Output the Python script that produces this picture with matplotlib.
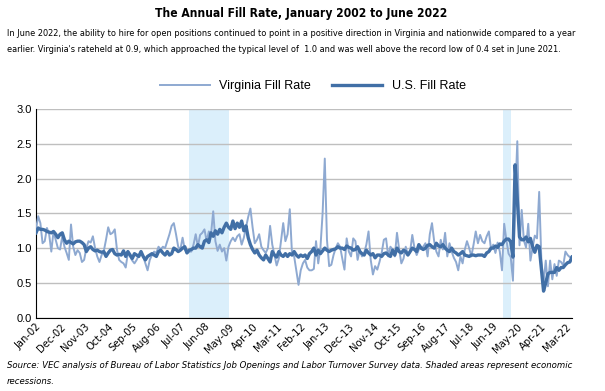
import os
import numpy as np
import pandas as pd
import matplotlib
matplotlib.use("Agg")
import matplotlib.pyplot as plt
from matplotlib import font_manager as fm

# monthly fill rates, Jan 2002 - Jun 2022
virginia = [
    1.27, 1.46, 1.36, 1.07, 1.10, 1.29, 1.20, 0.95, 1.24, 1.12, 1.00, 0.98,  # 2002
    1.17, 1.02, 0.93, 0.83, 1.34, 1.02, 0.90, 0.97, 0.93, 0.80, 0.83, 1.00,  # 2003
    1.10, 1.08, 1.17, 1.00, 0.88, 0.80, 0.90, 0.96, 1.12, 1.30, 1.20, 1.22,  # 2004
    1.27, 0.98, 0.83, 0.80, 0.78, 0.72, 0.93, 0.88, 0.82, 0.78, 0.83, 0.90,  # 2005
    0.95, 0.88, 0.78, 0.68, 0.83, 0.90, 0.95, 0.93, 1.02, 0.98, 1.02, 1.00,  # 2006
    1.10, 1.20, 1.32, 1.36, 1.20, 1.02, 0.98, 1.15, 0.98, 0.93, 0.95, 0.95,  # 2007
    1.05, 1.20, 1.02, 1.19, 1.22, 1.27, 1.10, 1.24, 1.20, 1.53, 1.10, 0.96,  # 2008
    1.05, 0.95, 1.00, 0.82, 1.02, 1.10, 1.15, 1.10, 1.17, 1.20, 1.05, 1.15,  # 2009
    1.30, 1.45, 1.57, 1.30, 1.07, 1.12, 1.20, 1.02, 0.97, 0.93, 1.00, 1.32,  # 2010
    1.05, 0.90, 0.75, 0.85, 1.10, 1.36, 1.10, 1.20, 1.56, 0.93, 0.88, 0.68,  # 2011
    0.47, 0.68, 0.78, 0.83, 0.72, 0.68, 0.68, 0.70, 1.10, 0.78, 1.00, 1.50,  # 2012
    2.29, 1.12, 0.74, 0.76, 0.90, 1.00, 1.07, 1.02, 0.85, 0.69, 1.14, 0.95,  # 2013
    0.88, 1.14, 1.10, 0.83, 0.98, 0.88, 0.93, 1.05, 1.24, 0.83, 0.62, 0.74,  # 2014
    0.69, 0.80, 0.93, 1.12, 1.14, 0.88, 1.02, 0.98, 0.88, 1.22, 0.98, 0.78,  # 2015
    0.85, 1.02, 0.90, 0.95, 1.19, 1.00, 0.90, 0.98, 1.00, 1.02, 1.07, 0.88,  # 2016
    1.20, 1.36, 1.10, 0.95, 0.88, 1.12, 0.98, 1.22, 0.88, 1.07, 0.95, 0.86,  # 2017
    0.80, 0.68, 0.88, 0.78, 0.98, 1.10, 1.00, 0.88, 1.05, 1.24, 1.07, 1.19,  # 2018
    1.10, 1.07, 1.17, 1.24, 0.98, 1.05, 0.93, 1.08, 0.95, 0.68, 1.35, 1.12,  # 2019
    0.92, 0.87, 0.53, 1.70, 2.54, 1.04, 1.55, 1.11, 1.01, 1.35, 0.82, 1.01,  # 2020
    1.18, 1.14, 1.81, 0.82, 0.50, 0.82, 0.45, 0.82, 0.55, 0.77, 0.60, 0.82,  # 2021
    0.80, 0.75, 0.95, 0.90, 0.87, 0.88,                                      # 2022
]
us = [
    1.22, 1.29, 1.27, 1.27, 1.26, 1.24, 1.23, 1.22, 1.24, 1.20, 1.15, 1.20,  # 2002
    1.22, 1.12, 1.07, 1.10, 1.08, 1.06, 1.09, 1.10, 1.10, 1.08, 1.05, 0.95,  # 2003
    1.00, 1.02, 0.98, 0.96, 0.97, 0.95, 0.94, 0.95, 0.88, 0.93, 0.97, 0.98,  # 2004
    0.92, 0.90, 0.91, 0.90, 0.96, 0.88, 0.95, 0.90, 0.85, 0.92, 0.90, 0.88,  # 2005
    0.95, 0.88, 0.83, 0.88, 0.90, 0.92, 0.90, 0.88, 0.95, 0.97, 0.93, 0.90,  # 2006
    0.95, 0.90, 0.92, 1.00, 0.98, 0.95, 0.97, 1.00, 1.02, 0.93, 0.97, 0.98,  # 2007
    1.00, 1.00, 1.05, 1.02, 1.00, 1.10, 1.12, 1.08, 1.22, 1.17, 1.25, 1.20,  # 2008
    1.27, 1.22, 1.30, 1.36, 1.30, 1.27, 1.39, 1.28, 1.36, 1.30, 1.39, 1.25,  # 2009
    1.32, 1.15, 1.05, 0.98, 0.93, 0.97, 0.90, 0.86, 0.83, 0.90, 0.85, 0.80,  # 2010
    0.95, 0.90, 0.87, 0.95, 0.90, 0.88, 0.92, 0.88, 0.92, 0.90, 0.95, 0.90,  # 2011
    0.87, 0.90, 0.88, 0.90, 0.85, 0.92, 0.95, 1.00, 0.90, 0.97, 0.92, 0.96,  # 2012
    1.00, 0.97, 0.95, 0.97, 0.98, 0.99, 1.02, 1.00, 1.00, 0.98, 1.03, 1.01,  # 2013
    1.00, 0.97, 0.98, 1.02, 0.95, 0.92, 0.90, 0.97, 0.93, 0.90, 0.92, 0.86,  # 2014
    0.90, 0.90, 0.88, 0.92, 0.93, 0.90, 0.88, 0.97, 0.90, 1.00, 0.95, 0.93,  # 2015
    0.97, 0.95, 0.90, 0.95, 1.00, 0.98, 0.95, 1.05, 1.00, 0.98, 1.00, 1.04,  # 2016
    1.05, 1.02, 1.00, 1.07, 1.03, 1.02, 1.05, 1.00, 0.97, 0.95, 1.00, 0.95,  # 2017
    0.93, 0.90, 0.92, 0.95, 0.90, 0.89, 0.88, 0.90, 0.90, 0.89, 0.90, 0.90,  # 2018
    0.90, 0.88, 0.93, 0.95, 1.00, 1.00, 1.03, 1.01, 1.06, 1.05, 1.10, 1.13,  # 2019
    1.13, 1.09, 0.87, 2.20, 1.70, 1.16, 1.12, 1.12, 1.16, 1.09, 1.14, 1.02,  # 2020
    0.94, 1.04, 1.02, 0.70, 0.38, 0.50, 0.63, 0.65, 0.65, 0.65, 0.72, 0.68,  # 2021
    0.72, 0.72, 0.76, 0.79, 0.80, 0.87,                                      # 2022
]
months = pd.date_range("2002-01-01", periods=len(us), freq="MS")
month_labels = [d.strftime("%b-%y") for d in months]
recessions = [(69.9, 88.0), (213.3, 217.3)]  # shaded spans, month index


# look for a narrow/condensed face (the original uses Arial Narrow)
def narrow_font(size, bold=False, italic=False):
    prefs = ["Liberation Sans Narrow", "DejaVu Sans", "Roboto Condensed", "Roboto",
             "Open Sans Condensed", "Open Sans", "Noto Sans"]
    cands = []
    for f in fm.fontManager.ttflist:
        fn = os.path.basename(f.fname).lower()
        if "narrow" not in fn and "condensed" not in fn:
            continue
        if f.name not in prefs:
            continue
        w = f.weight if isinstance(f.weight, int) else (700 if "bold" in str(f.weight) else 400)
        if bold != (w >= 600) or (not bold and w < 350):
            continue
        if italic != (f.style in ("italic", "oblique")):
            continue
        cands.append((prefs.index(f.name), f.fname))
    if cands:
        return fm.FontProperties(fname=sorted(cands)[0][1], size=size)
    return fm.FontProperties(family="Liberation Sans", size=size * 0.84,
                             weight="bold" if bold else "normal",
                             style="italic" if italic else "normal")


def fit_width(fig, txt, target_px):
    fig.canvas.draw()
    w = txt.get_window_extent().width
    txt.set_fontsize(txt.get_fontsize() * target_px / w)
    return txt.get_fontsize()


plt.rcParams["font.family"] = ["Liberation Sans", "DejaVu Sans"]

fig = plt.figure(figsize=(6.05, 3.91), dpi=100)
ax = fig.add_axes([36 / 605, 1 - 317.5 / 391, 536 / 605, 208.2 / 391])

x = np.arange(len(us))
for a, b in recessions:
    ax.axvspan(a, b, color="#DBEFFB", lw=0, zorder=0)
ax.plot(x, virginia, color="#8EA9D1", lw=1.4, solid_joinstyle="round", label="Virginia Fill Rate", zorder=3)
ax.plot(x, us, color="#416FA6", lw=2.4, solid_joinstyle="round", label="U.S. Fill Rate", zorder=4)

ax.set_ylim(0, 3)
ax.set_xlim(0, len(us) - 1)
yt = np.arange(0, 3.01, 0.5)
ax.set_yticks(yt)
ax.set_yticklabels([f"{v:.1f}" for v in yt], fontsize=8)
ax.yaxis.grid(True, color="#BFBFBF", lw=1)
ax.set_axisbelow(True)
ticks = x[::11]
ax.set_xticks(ticks)
ax.set_xticklabels([month_labels[i] for i in ticks], rotation=45, ha="right",
                   rotation_mode="anchor", fontproperties=narrow_font(8))
ax.tick_params(length=0, pad=3)
for s in ["top", "right"]:
    ax.spines[s].set_visible(False)
ax.spines["left"].set_color("black")
ax.spines["bottom"].set_color("black")

title = fig.text(301 / 605, 1 - 14 / 391, "The Annual Fill Rate, January 2002 to June 2022",
                 ha="center", va="center", fontproperties=narrow_font(11.5, bold=True))
sub1 = fig.text(7 / 605, 1 - 33 / 391,
                "In June 2022, the ability to hire for open positions continued to point in a positive direction in Virginia and nationwide compared to a year",
                ha="left", va="center", fontproperties=narrow_font(8.5))
sub2 = fig.text(7 / 605, 1 - 50 / 391,
                "earlier. Virginia's rateheld at 0.9, which approached the typical level of  1.0 and was well above the record low of 0.4 set in June 2021.",
                ha="left", va="center", fontproperties=narrow_font(8.5))
src1 = fig.text(7 / 605, 1 - 366 / 391,
                "Source: VEC analysis of Bureau of Labor Statistics Job Openings and Labor Turnover Survey data. Shaded areas represent economic",
                ha="left", va="center", fontproperties=narrow_font(8.2, italic=True))
src2 = fig.text(7 / 605, 1 - 382 / 391, "recessions.", ha="left", va="center",
                fontproperties=narrow_font(8.2, italic=True))

fig.legend(loc="center", bbox_to_anchor=(0.517, 1 - 86 / 391), ncol=2, frameon=False,
           handlelength=4.0, handletextpad=0.75, columnspacing=1.7,
           prop={"family": ["Liberation Sans", "DejaVu Sans"], "size": 9})

# match the text widths of the original
fit_width(fig, title, 292)
s = fit_width(fig, sub1, 567)
sub2.set_fontsize(s)
s = fit_width(fig, src1, 564)
src2.set_fontsize(s)

fig.savefig("out.png", dpi=100)
